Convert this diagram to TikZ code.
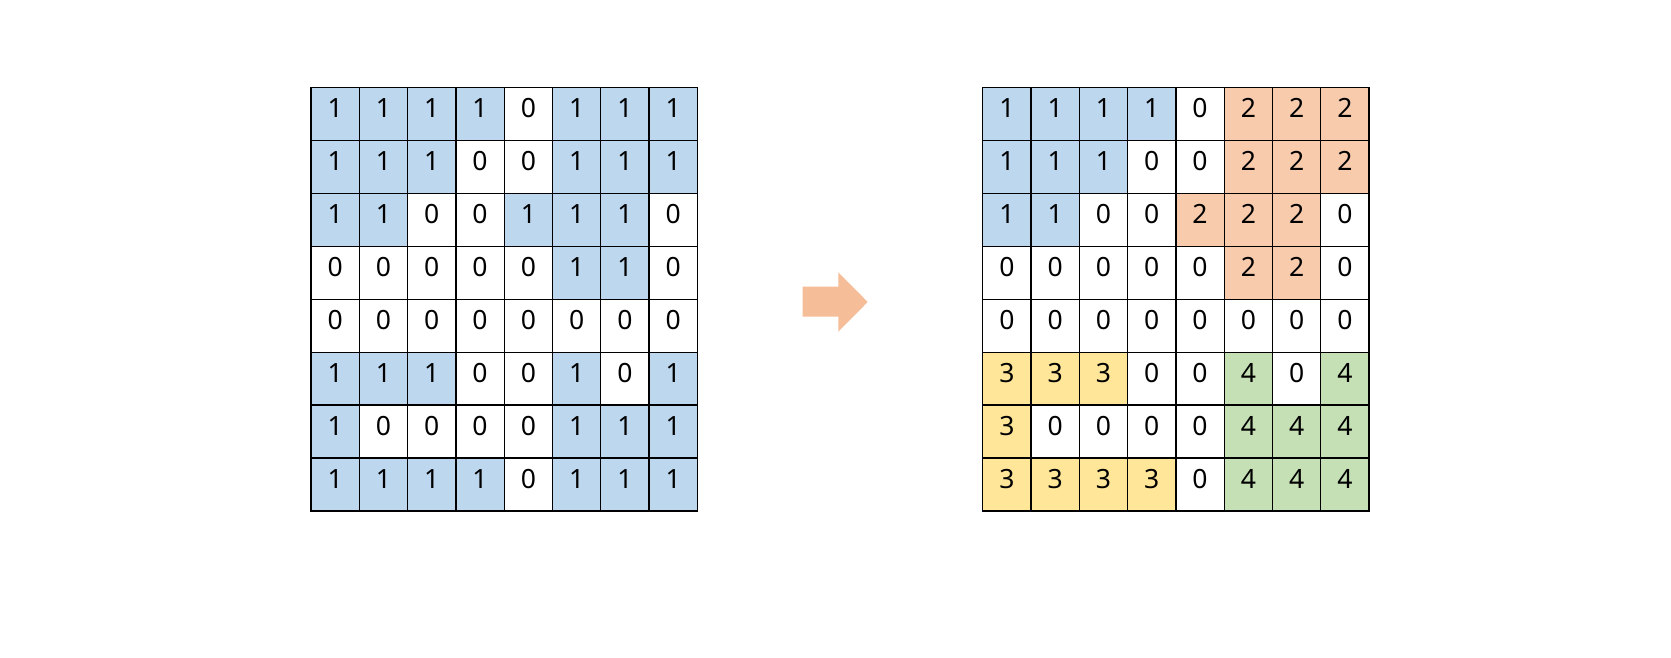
\documentclass[tikz,border=0pt]{standalone}
\usepackage{fontspec}
\setmainfont{Noto Sans}
\definecolor{c0}{HTML}{FFFFFF}
\definecolor{c1}{HTML}{BDD7EE}
\definecolor{c2}{HTML}{F8CBAD}
\definecolor{c3}{HTML}{FFE699}
\definecolor{c4}{HTML}{C5E0B4}
\definecolor{arrowc}{HTML}{F6BE98}
\begin{document}
\begin{tikzpicture}[x=1pt,y=-1pt,
  cell/.style={draw=black,line width=1.3pt,inner sep=0pt,minimum width=48.3pt,minimum height=52.94pt,
    font=\fontsize{26.5}{26.5}\selectfont,text height=0.72em,text depth=0pt}]
\useasboundingbox (0,0) rectangle (1671,658);
\fill[white] (0,0) rectangle (1671,658);
\foreach \row [count=\r] in {{1,1,1,1,0,1,1,1},{1,1,1,0,0,1,1,1},{1,1,0,0,1,1,1,0},{0,0,0,0,0,1,1,0},{0,0,0,0,0,0,0,0},{1,1,1,0,0,1,0,1},{1,0,0,0,0,1,1,1},{1,1,1,1,0,1,1,1}}{
  \foreach \v [count=\c] in \row {
    \node[cell,fill=c\v] (L-\r-\c) at ({311+48.3*(\c-0.5)},{87.5+52.94*(\r-0.5)}) {\v};
  }
}
\foreach \row [count=\r] in {{1,1,1,1,0,2,2,2},{1,1,1,0,0,2,2,2},{1,1,0,0,2,2,2,0},{0,0,0,0,0,2,2,0},{0,0,0,0,0,0,0,0},{3,3,3,0,0,4,0,4},{3,0,0,0,0,4,4,4},{3,3,3,3,0,4,4,4}}{
  \foreach \v [count=\c] in \row {
    \node[cell,fill=c\v] (R-\r-\c) at ({982.7+48.3*(\c-0.5)},{87.5+52.94*(\r-0.5)}) {\v};
  }
}
\fill[arrowc] (802.7,286.7) -- (838.3,286.7) -- (838.3,272.3) -- (867.7,302) -- (838.3,331.7) -- (838.3,316.7) -- (802.7,316.7) -- cycle;
\end{tikzpicture}
\end{document}
